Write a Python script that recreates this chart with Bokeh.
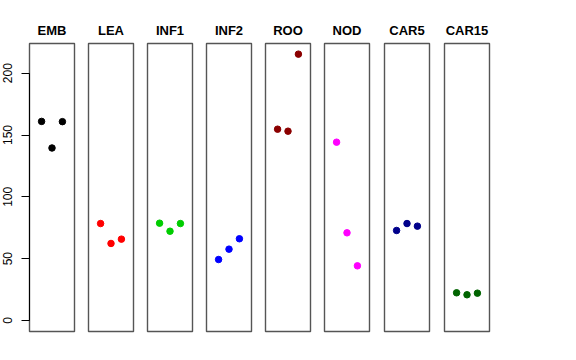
from bokeh.plotting import figure
from bokeh.layouts import row
from bokeh.models import Range1d, FixedTicker, LinearAxis
from bokeh.embed import file_html
from bokeh.resources import INLINE

groups = ["EMB", "LEA", "INF1", "INF2", "ROO", "NOD", "CAR5", "CAR15"]
colors = ["#000000", "#FF0000", "#00CD00", "#0000FF", "#8B0000", "#FF00FF", "#00008B", "#006400"]
replicate = [1, 2, 3]
emb = [161.0, 139.5, 160.8]
lea = [78.4, 62.3, 65.8]
inf1 = [78.7, 72.2, 78.4]
inf2 = [49.3, 57.7, 66.1]
roo = [154.7, 153.1, 215.4]
nod = [144.2, 70.9, 44.2]
car5 = [72.8, 78.4, 76.3]
car15 = [22.4, 20.8, 22.1]
yticks = [0, 50, 100, 150, 200]

series = [emb, lea, inf1, inf2, roo, nod, car5, car15]

FRAME_W = 45
TOP = 43
FRAME_H = 288
BOTTOM = 17

figs = []
for i, (name, col, vals) in enumerate(zip(groups, colors, series)):
    left = 29 if i == 0 else (8 if i >= 6 else 7)
    right = 7
    p = figure(width=left + FRAME_W + right, height=TOP + FRAME_H + BOTTOM,
               x_range=Range1d(-0.16, 4.16), y_range=Range1d(-8.9, 224.0),
               output_backend="svg", toolbar_location=None,
               x_axis_location=None, y_axis_location=None,
               min_border_left=left, min_border_right=right,
               min_border_top=TOP, min_border_bottom=BOTTOM,
               title=name)
    p.title.align = "center"
    p.title.text_font = "Liberation Sans"
    p.title.text_font_style = "bold"
    p.title.text_font_size = "13px"
    p.title.text_color = "#000000"
    p.title.standoff = 11
    p.xgrid.visible = False
    p.ygrid.visible = False
    p.outline_line_color = "#555555"
    p.outline_line_width = 1.4
    p.background_fill_color = "white"
    p.border_fill_color = "white"
    if i == 0:
        ax = LinearAxis(ticker=FixedTicker(ticks=yticks), bounds=(0, 200))
        ax.major_label_orientation = "vertical"
        ax.major_label_text_font = "Liberation Sans"
        ax.major_label_text_font_size = "12px"
        ax.major_label_text_color = "#000000"
        ax.major_label_standoff = 9
        ax.major_tick_out = 8
        ax.major_tick_in = 0
        ax.minor_tick_out = 0
        ax.minor_tick_in = 0
        ax.axis_line_color = "black"
        ax.major_tick_line_color = "black"
        p.add_layout(ax, "left")
    p.scatter(replicate, vals, size=6.5, color=col, line_color=col)
    figs.append(p)

layout = row(*figs, spacing=0)
open("out.html", "w").write(file_html(layout, INLINE))
